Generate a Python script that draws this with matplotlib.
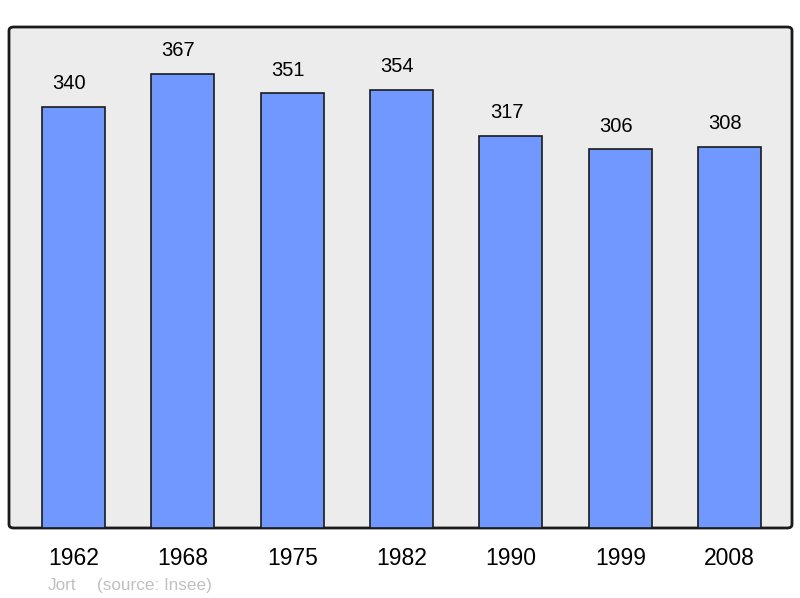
import matplotlib
matplotlib.use('Agg')
import matplotlib.pyplot as plt
from matplotlib.patches import FancyBboxPatch

years = ['1962', '1968', '1975', '1982', '1990', '1999', '2008']
population = [340, 367, 351, 354, 317, 306, 308]

plt.rcParams['font.family'] = ['Liberation Sans', 'DejaVu Sans']

fig = plt.figure(figsize=(8, 5.98), dpi=100)
W, H = 800, 598
ax = fig.add_axes([9 / W, 1 - 528 / H, 783 / W, 501 / H])
ax.set_facecolor('none')

ymax = 501 / 1.238
ax.set_xlim(-0.59, 6.57)
ax.set_ylim(0, ymax)

# background box with rounded corners
bg = FancyBboxPatch((9 / W, 1 - 528 / H), 783 / W, 501 / H,
                    boxstyle='round,pad=0,rounding_size=0.006',
                    transform=fig.transFigure, facecolor='#ececec',
                    edgecolor='#1a1a1a', linewidth=2, zorder=-5)
fig.patches.append(bg)

xs = list(range(len(years)))
ax.bar(xs, population, width=0.576, color='#7098ff',
       edgecolor='#1a1a1a', linewidth=1.2, zorder=2)
for x, v in zip(xs, population):
    ax.text(x - 0.04, v + 11, str(v), ha='center', va='bottom',
            fontsize=14.5, color='black')

ax.set_xticks(xs)
ax.set_xticklabels(years, fontsize=16.5)
ax.tick_params(axis='x', length=0, pad=14)
ax.set_yticks([])
for s in ax.spines.values():
    s.set_visible(False)

fig.text(48 / W, 1 - 590 / H, 'Jort', fontsize=12.3, color='#c0c0c0')
fig.text(97 / W, 1 - 590 / H, '(source: Insee)', fontsize=12.3, color='#c0c0c0')

fig.savefig('out.png', dpi=100)
